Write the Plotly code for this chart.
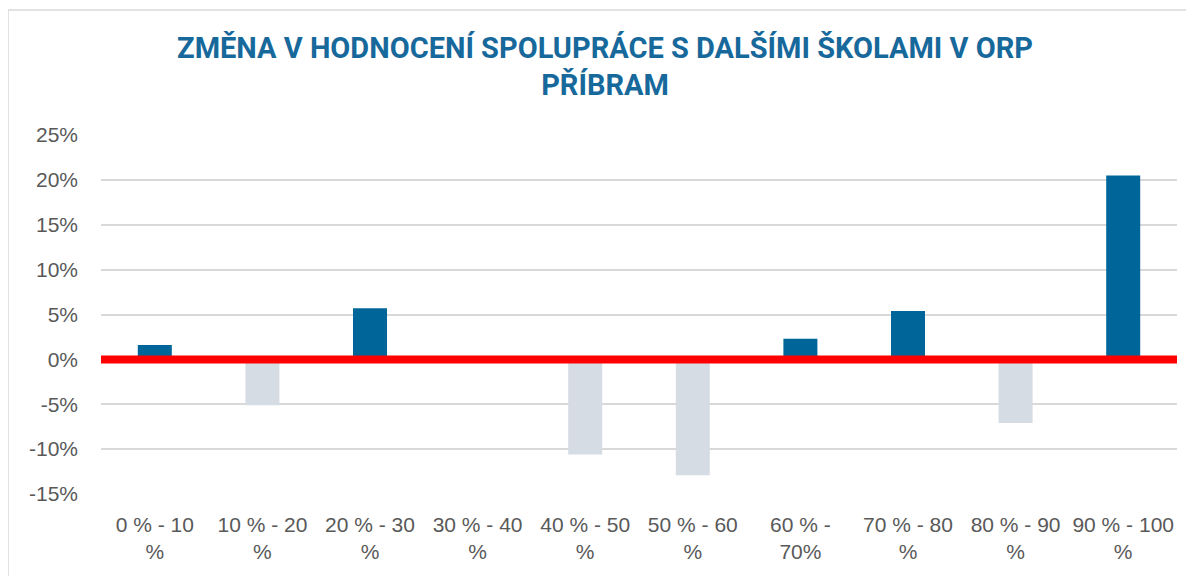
import plotly.graph_objects as go

categories = ["0 % - 10<br>%", "10 % - 20<br>%", "20 % - 30<br>%", "30 % - 40<br>%",
              "40 % - 50<br>%", "50 % - 60<br>%", "60 % -<br>70%", "70 % - 80<br>%",
              "80 % - 90<br>%", "90 % - 100<br>%"]
values = [0.016, -0.051, 0.057, 0.0, -0.106, -0.129, 0.023, 0.054, -0.071, 0.205]
y_tickvals = [-0.15, -0.10, -0.05, 0.0, 0.05, 0.10, 0.15, 0.20, 0.25]
y_ticktext = ["-15%", "-10%", "-5%", "0%", "5%", "10%", "15%", "20%", "25%"]
title_text = "ZMĚNA V HODNOCENÍ SPOLUPRÁCE S DALŠÍMI ŠKOLAMI V ORP<br>PŘÍBRAM"

POS_COLOR = "#00669A"
NEG_COLOR = "#D6DCE4"
colors = [POS_COLOR if v >= 0 else NEG_COLOR for v in values]

fig = go.Figure()
fig.add_trace(go.Bar(x=categories, y=values, marker=dict(color=colors, line=dict(width=0)),
                     showlegend=False))

fig.update_layout(
    width=1194, height=576,
    paper_bgcolor="white", plot_bgcolor="white",
    margin=dict(l=93, r=25, t=127, b=90),
    bargap=0.684,
    title=dict(text="<b>" + title_text + "</b>", x=0.5, xanchor="center", y=0.914, yanchor="top",
               font=dict(family="Roboto", size=29, color="#17699C")),
    font=dict(family="Liberation Sans, Arial, sans-serif", size=21, color="#595959"),
    xaxis=dict(showgrid=False, showline=False, zeroline=False, ticks="",
               tickfont=dict(size=21, color="#595959"), ticklabelstandoff=16),
    yaxis=dict(range=[-0.15, 0.25], tickmode="array", tickvals=y_tickvals, ticktext=y_ticktext,
               showgrid=True, gridcolor="#D9D9D9", gridwidth=1.5, zeroline=False,
               showline=False, ticks="", tickfont=dict(size=21, color="#595959"),
               ticklabelstandoff=22),
    shapes=[
        dict(type="line", xref="paper", yref="y", x0=0, x1=1, y0=0, y1=0,
             line=dict(color="#FF0000", width=8), layer="above"),
        dict(type="rect", xref="paper", yref="paper", x0=-0.0864, x1=1.2, y0=-0.5, y1=1.348,
             line=dict(color="#D9D9D9", width=1.5), fillcolor="rgba(0,0,0,0)", layer="below"),
    ],
)

fig.write_html("out.html")
